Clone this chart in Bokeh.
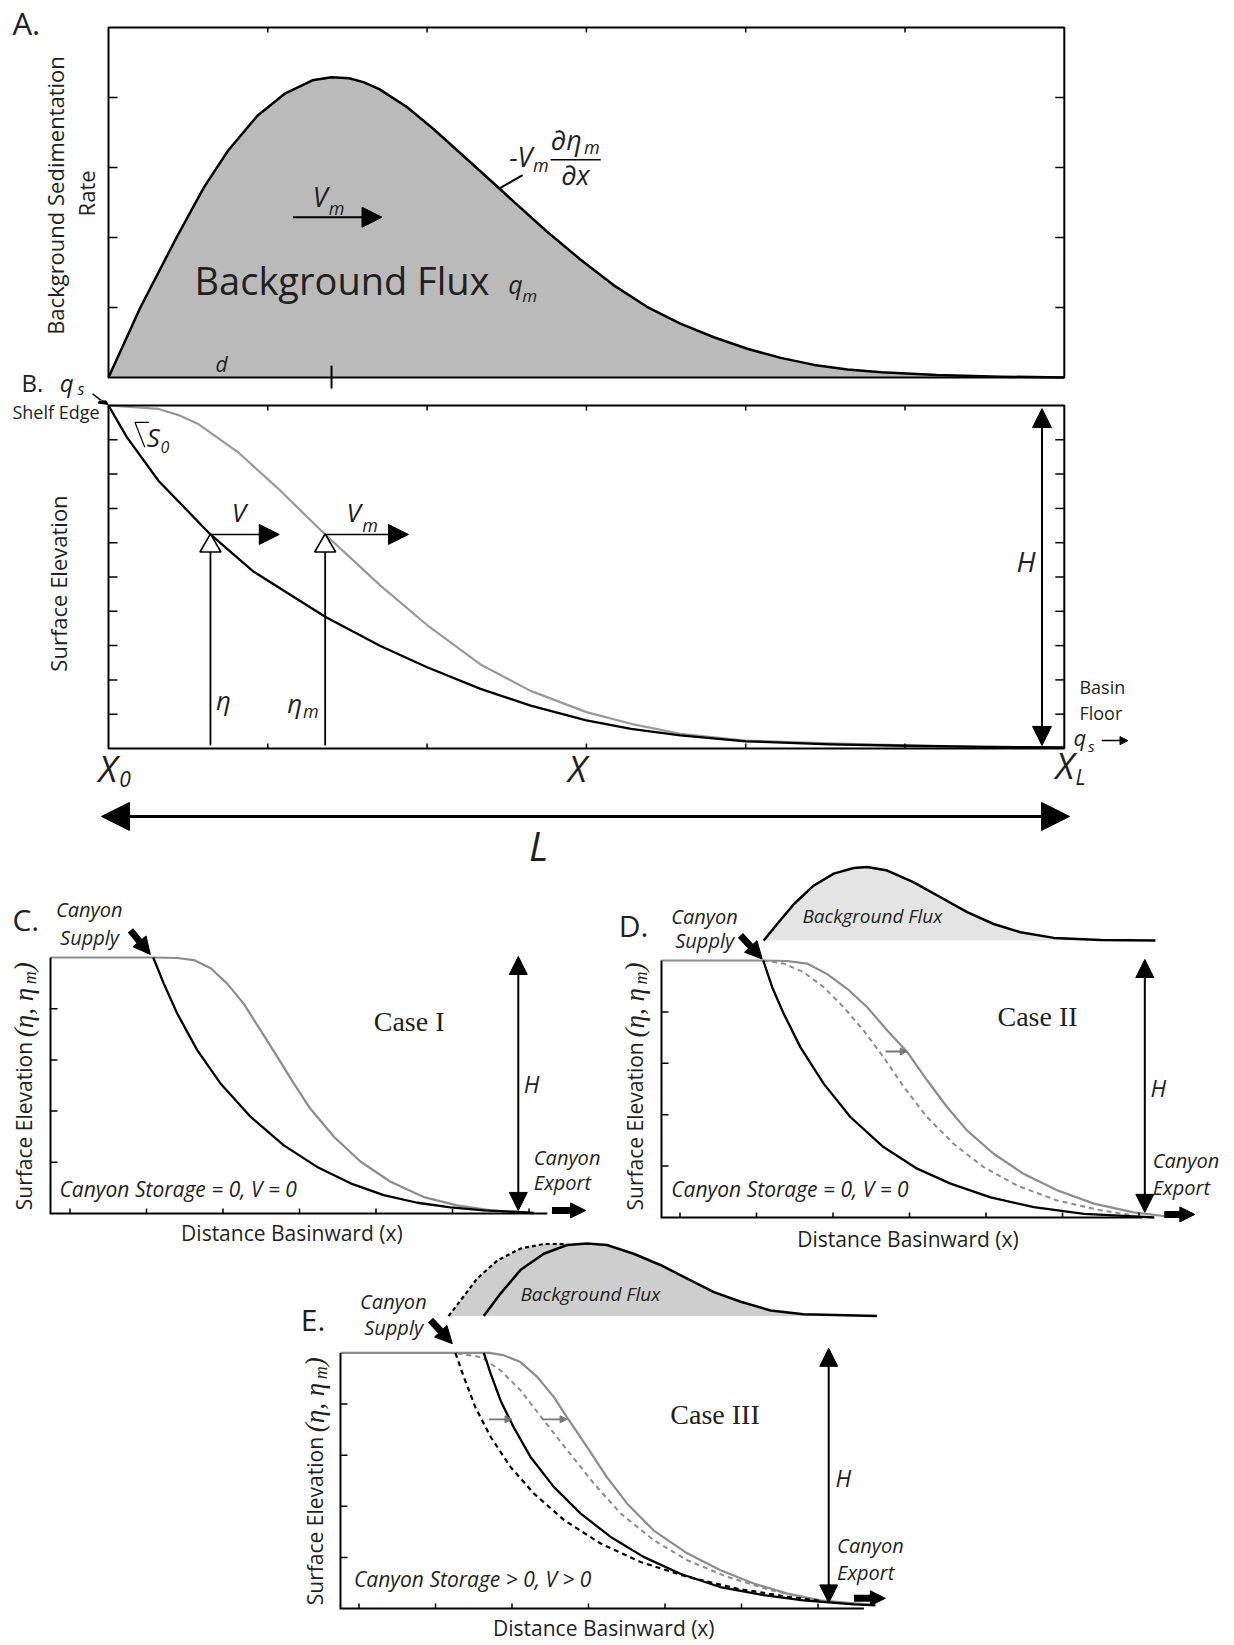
import numpy as np
from bokeh.plotting import figure
from bokeh.models import Range1d, Label, Arrow, NormalHead, Spacer
from bokeh.layouts import column, row
from bokeh.embed import file_html
from bokeh.resources import INLINE

# ---------------- data ----------------
# Panel A: background sedimentation rate
a_x = [0, 0.20, 0.427, 0.60, 0.75, 0.935, 1.11, 1.28, 1.40, 1.51, 1.60, 1.70, 1.875, 2.04, 2.23,
       2.40, 2.54, 2.75, 2.96, 3.17, 3.38, 3.59, 3.80, 4.01, 4.22, 4.43, 4.64, 4.85, 5.2, 5.6, 6.0]
a_rate = [0, 1.0, 2.0, 2.72, 3.24, 3.74, 4.06, 4.245, 4.29, 4.275, 4.22, 4.12, 3.86, 3.55, 3.16,
          2.81, 2.52, 2.09, 1.69, 1.32, 1.01, 0.77, 0.575, 0.41, 0.28, 0.18, 0.115, 0.075, 0.035,
          0.012, 0.0]
a_d = 1.40
a_xticks = [1, 2, 3, 4, 5]
a_yticks = [1, 2, 3, 4]

# Panel B: surface elevation profiles
b_x_eta = [0, 0.115, 0.315, 0.64, 0.91, 1.36, 1.707, 2.0, 2.335, 2.65, 3.0, 3.28, 3.59, 4.0,
           4.53, 5.0, 5.5, 6.0]
b_eta = [10, 9.08, 7.8, 6.24, 5.16, 3.84, 2.99, 2.37, 1.74, 1.25, 0.82, 0.57, 0.38, 0.21,
         0.12, 0.08, 0.05, 0.03]
b_x_etam = [0, 0.315, 0.44, 0.56, 0.81, 1.06, 1.36, 1.54, 1.707, 2.0, 2.335, 2.65, 3.0, 3.28,
            3.59, 4.0, 4.53, 5.0, 5.5, 6.0]
b_etam = [10, 9.9, 9.72, 9.47, 8.65, 7.6, 6.24, 5.47, 4.75, 3.6, 2.45, 1.68, 1.06, 0.72,
          0.43, 0.23, 0.15, 0.09, 0.05, 0.03]
b_probe_x = [0.64, 1.36]
b_probe_y = [6.24, 6.24]
b_xticks = [1, 2, 3, 4, 5]
b_yticks = [1, 2, 3, 4, 5, 6, 7, 8, 9]

# Panel C: Case I
c_x_etam = [0.745, 2.088, 2.40, 2.62, 2.84, 3.055, 3.27, 3.49, 3.71, 3.925, 4.14, 4.45, 4.80,
            5.19, 5.625, 6.06, 6.50, 6.85, 7.06]
c_etam = [5, 5, 4.99, 4.95, 4.79, 4.49, 4.10, 3.58, 3.06, 2.54, 2.05, 1.50, 1.01,
          0.62, 0.32, 0.16, 0.06, 0.03, 0.01]
c_x_eta = [2.088, 2.226, 2.40, 2.663, 2.967, 3.36, 3.795, 4.23, 4.667, 5.10, 5.54, 5.974, 6.41,
           6.85, 7.06]
c_eta = [5.0, 4.49, 3.91, 3.19, 2.54, 1.89, 1.33, 0.91, 0.59, 0.36, 0.21, 0.12, 0.06, 0.03, 0.01]

# Panel D: Case II
d_x_etam = [0.758, 2.088, 2.40, 2.66, 2.92, 3.186, 3.447, 3.71, 3.97, 4.23, 4.49, 4.754, 5.10,
            5.49, 5.93, 6.41, 6.93, 7.37]
d_etam = [5, 5, 4.99, 4.94, 4.74, 4.45, 4.09, 3.64, 3.22, 2.67, 2.15, 1.69, 1.24,
          0.85, 0.53, 0.27, 0.10, 0.02]
d_x_etam0 = [2.088, 2.357, 2.618, 2.88, 3.14, 3.40, 3.66, 3.925, 4.23, 4.58, 4.97, 5.41, 5.93,
             6.50, 6.93]
d_etam0 = [5.0, 4.94, 4.77, 4.48, 4.09, 3.64, 3.12, 2.54, 1.95, 1.43, 0.98, 0.62, 0.33, 0.14, 0.04]
d_x_eta = [2.088, 2.205, 2.357, 2.575, 2.88, 3.23, 3.66, 4.10, 4.536, 5.06, 5.625, 6.28, 6.93, 7.2]
d_eta = [5.0, 4.48, 3.96, 3.31, 2.60, 1.95, 1.37, 0.95, 0.66, 0.39, 0.20, 0.07, 0.02, 0.0]
d_flux_x = [2.095, 2.27, 2.49, 2.75, 3.01, 3.27, 3.447, 3.71, 4.056, 4.405, 4.754, 5.10, 5.45,
            5.886, 6.50, 7.215]
d_flux = [5.39, 5.71, 6.10, 6.46, 6.69, 6.80, 6.82, 6.75, 6.52, 6.23, 5.94, 5.71, 5.55,
          5.44, 5.40, 5.39]
d_flux_base = 5.39

# Panel E: Case III
e_x_etam = [0.758, 2.70, 2.89, 3.11, 3.33, 3.546, 3.72, 3.98, 4.24, 4.506, 4.85, 5.29, 5.725,
            6.16, 6.60, 7.03, 7.47, 7.75]
e_etam = [5, 5, 4.955, 4.82, 4.53, 4.14, 3.74, 3.16, 2.57, 2.05, 1.53, 1.08, 0.75,
          0.49, 0.29, 0.16, 0.10, 0.07]
e_x_etam0 = [0.758, 2.24, 2.59, 2.85, 3.11, 3.416, 3.72, 4.07, 4.42, 4.85, 5.29, 5.81, 6.38, 6.99]
e_etam0 = [5, 5, 4.92, 4.66, 4.27, 3.68, 3.10, 2.445, 1.86, 1.34, 0.945, 0.62, 0.36, 0.16]
e_x_eta = [2.631, 2.72, 2.85, 3.02, 3.24, 3.546, 3.895, 4.29, 4.72, 5.20, 5.72, 6.29, 6.81, 7.47, 7.75]
e_eta = [5.0, 4.60, 4.07, 3.55, 2.97, 2.38, 1.86, 1.40, 1.01, 0.68, 0.42, 0.26, 0.16, 0.08, 0.06]
e_x_eta0 = [2.26, 2.37, 2.52, 2.72, 2.98, 3.285, 3.68, 4.16, 4.68, 5.29, 5.94, 6.60, 7.03]
e_eta0 = [5.0, 4.53, 3.94, 3.36, 2.77, 2.25, 1.73, 1.27, 0.91, 0.62, 0.39, 0.23, 0.15]
e_flux_x = [2.631, 2.85, 3.11, 3.416, 3.72, 3.98, 4.24, 4.59, 4.94, 5.29, 5.64, 5.99, 6.38, 6.81, 7.77]
e_flux = [5.72, 6.16, 6.62, 6.94, 7.11, 7.14, 7.11, 6.94, 6.72, 6.455, 6.19, 6.00, 5.83, 5.755, 5.72]
e_flux0_x = [2.17, 2.33, 2.545, 2.81, 3.11, 3.416, 3.72]
e_flux0 = [5.72, 6.03, 6.455, 6.81, 7.04, 7.13, 7.13]
e_flux_base = 5.72

cde_xticks = [1, 2, 3, 4, 5, 6, 7]
cde_yticks = [1, 2, 3, 4]

# ---------------- styling helpers ----------------
SANS = "Open Sans"
SERIF = "Liberation Serif"
INK = "#231f20"
GREY = "#8c8c8c"
HALF_PI = np.pi / 2
PPY = {}   # pixels per y-unit for each figure (to place text baselines)


def make_fig(w, h, xr, yr):
    p = figure(width=w, height=h, x_range=Range1d(*xr), y_range=Range1d(*yr),
               output_backend="svg", toolbar_location=None,
               x_axis_location=None, y_axis_location=None, min_border=0)
    p.outline_line_color = None
    p.background_fill_color = None
    p.border_fill_color = None
    p.grid.grid_line_color = None
    PPY[id(p)] = h / (yr[1] - yr[0])
    return p


def curve(p, x, y, color="black", width=2.3, dash="solid"):
    p.line(x, y, line_color=color, line_width=width, line_dash=dash, line_join="round")


def ticks_x(p, ticks, y, length):
    n = len(ticks)
    p.segment(x0=ticks, y0=[y] * n, x1=ticks, y1=[y + length] * n,
              line_color="black", line_width=1.5)


def ticks_y(p, ticks, x, length):
    n = len(ticks)
    p.segment(x0=[x] * n, y0=ticks, x1=[x + length] * n, y1=ticks,
              line_color="black", line_width=1.5)


def txt(p, x, y, s, size, style="normal", font=SANS, align="left",
        baseline="alphabetic", angle=0, color=INK):
    if baseline == "alphabetic":
        # lift so that the glyph baseline sits at y
        k = 0.40 if font == SANS else 0.37
        y = y + k * size / PPY[id(p)]
    p.add_layout(Label(x=x, y=y, text=s, text_font=font, text_font_size=f"{size}px",
                       text_font_style=style, text_align=align, text_baseline=baseline,
                       angle=angle, text_color=color))


def arrow(p, x0, y0, x1, y1, lw=2, head=20, end=True, start=False, color="black"):
    def hd():
        return NormalHead(size=head, fill_color=color, line_color=color, line_width=1)
    p.add_layout(Arrow(x_start=x0, y_start=y0, x_end=x1, y_end=y1, line_width=lw,
                       line_color=color, end=hd() if end else None,
                       start=hd() if start else None))


def ylabel_eta(p, xc, y0, ppu, xppu):
    # "Surface Elevation (η, η_m)" rotated, composed of pieces
    txt(p, xc, y0, "Surface Elevation", 21, align="left", baseline="middle", angle=HALF_PI)
    txt(p, xc, y0 + 173 / ppu, "(η, η", 27, style="italic", font=SERIF,
        align="left", baseline="middle", angle=HALF_PI)
    txt(p, xc + 6 / xppu, y0 + 226 / ppu, "m", 18, style="italic", font=SERIF,
        align="left", baseline="middle", angle=HALF_PI)
    txt(p, xc, y0 + 239 / ppu, ")", 27, style="italic", font=SERIF,
        align="left", baseline="middle", angle=HALF_PI)


def profile_axes(p, x0, x_end, ppx, ppy):
    p.line([x0, x0, x_end], [5, 0, 0], line_color="black", line_width=2, line_join="miter")
    ticks_x(p, cde_xticks, 0, 5 / ppy)
    ticks_y(p, cde_yticks, x0, 7 / ppx)


# ---------------- Panel A ----------------
AX, AY = 159.3, 70.0
fa = make_fig(1230, 400, (-0.67797, 7.04331), (-0.32857, 5.38571))
fa.varea(x=a_x, y1=0, y2=a_rate, fill_color="#bababa")
curve(fa, a_x, a_rate, width=2.5)
fa.quad(left=0, right=6, bottom=0, top=5, fill_color=None, line_color="black", line_width=2)
ticks_x(fa, a_xticks, 5, -5 / AY)
ticks_y(fa, a_yticks, 0, 9 / AX)
ticks_y(fa, a_yticks, 6, -9 / AX)
fa.segment(x0=[a_d], y0=[0.17], x1=[a_d], y1=[-0.157], line_color="black", line_width=2)
txt(fa, 0.71, 0.076, "d", 21, style="italic", align="center")
arrow(fa, 1.158, 2.29, 1.717, 2.29, lw=2, head=20)
txt(fa, 1.282, 2.433, "V", 27, style="italic")
txt(fa, 1.382, 2.314, "m", 18, style="italic")
txt(fa, 0.54, 1.17, "Background Flux", 38)
txt(fa, 2.51, 1.195, "q", 25, style="italic")
txt(fa, 2.597, 1.076, "m", 17, style="italic")
fa.segment(x0=[2.46], y0=[2.71], x1=[2.60], y1=[2.89], line_color="black", line_width=2)
txt(fa, 2.515, 3.0, "-V", 27, style="italic")
txt(fa, 2.665, 2.93, "m", 18, style="italic")
fa.segment(x0=[2.775], y0=[3.11], x1=[3.09], y1=[3.11], line_color="black", line_width=1.5)
txt(fa, 2.775, 3.24, "∂η", 27, style="italic")
txt(fa, 2.985, 3.19, "m", 18, style="italic")
txt(fa, 2.93, 2.74, "∂x", 27, style="italic", align="center")
txt(fa, -0.603, 4.886, "A.", 31)
txt(fa, -0.333, 2.6, "Background Sedimentation", 22, align="center", baseline="middle", angle=HALF_PI)
txt(fa, -0.144, 2.63, "Rate", 22, align="center", baseline="middle", angle=HALF_PI)
txt(fa, -0.546, -0.21, "B.", 24)
txt(fa, -0.306, -0.21, "q", 24, style="italic")
txt(fa, -0.195, -0.257, "s", 16, style="italic")
fa.segment(x0=[-0.10], y0=[-0.235], x1=[-0.003], y1=[-0.40], line_color="black", line_width=1.5)

# ---------------- Panel B ----------------
BX, BY = 159.3, 34.3
fb = make_fig(1230, 476, (-0.67797, 7.04331), (-3.73178, 10.14577))
curve(fb, b_x_etam, b_etam, color="#999999", width=2.2)
curve(fb, b_x_eta, b_eta)
fb.quad(left=0, right=6, bottom=0, top=10, fill_color=None, line_color="black", line_width=2)
ticks_x(fb, b_xticks, 0, 5 / BY)
ticks_x(fb, b_xticks, 10, -5 / BY)
ticks_y(fb, b_yticks, 0, 9 / BX)
ticks_y(fb, b_yticks, 6, -9 / BX)
tri_y = [v - 0.335 for v in b_probe_y]
fb.segment(x0=b_probe_x, y0=[v - 0.5 for v in b_probe_y], x1=b_probe_x, y1=[0.09, 0.09],
           line_color="black", line_width=1.8)
fb.scatter(x=b_probe_x, y=tri_y, marker="triangle", size=21, fill_color="white",
           line_color="black", line_width=1.6)
arrow(fb, b_probe_x[0], b_probe_y[0], 1.072, b_probe_y[0], lw=1.6, head=20)
arrow(fb, b_probe_x[1], b_probe_y[1], 1.883, b_probe_y[1], lw=1.6, head=20)
txt(fb, 0.774, 6.6, "V", 26, style="italic")
txt(fb, 1.494, 6.6, "V", 26, style="italic")
txt(fb, 1.593, 6.306, "m", 18, style="italic")
txt(fb, 0.675, 1.11, "η", 26, style="italic")
txt(fb, 1.122, 1.02, "η", 26, style="italic")
txt(fb, 1.221, 0.875, "m", 18, style="italic")
arrow(fb, -0.10, 10.34, -0.003, 10.03, lw=1.5, head=9)
txt(fb, -0.603, 9.61, "Shelf Edge", 18)
fb.segment(x0=[0.166, 0.166], y0=[9.51, 9.51], x1=[0.253, 0.228], y1=[9.51, 8.78],
           line_color="black", line_width=1.2)
txt(fb, 0.24, 8.78, "S", 26, style="italic")
txt(fb, 0.327, 8.59, "0", 16, style="italic")
arrow(fb, 5.86, 0.09, 5.86, 9.91, lw=2, head=19, start=True)
txt(fb, 5.70, 5.14, "H", 28, style="italic")
txt(fb, 6.095, 1.59, "Basin", 18)
txt(fb, 6.095, 0.82, "Floor", 18)
txt(fb, 6.058, 0.09, "q", 22, style="italic")
txt(fb, 6.148, -0.11, "s", 15, style="italic")
arrow(fb, 6.235, 0.23, 6.40, 0.23, lw=1.5, head=8)
txt(fb, -0.063, -1.0, "X", 36, style="italic")
txt(fb, 0.067, -1.12, "0", 21, style="italic")
txt(fb, 2.884, -1.0, "X", 36, style="italic")
txt(fb, 5.945, -0.92, "X", 36, style="italic")
txt(fb, 6.07, -1.08, "L", 21, style="italic")
arrow(fb, -0.044, -1.98, 6.033, -1.98, lw=3, head=28, start=True)
txt(fb, 2.64, -3.30, "L", 40, style="italic")
txt(fb, -0.32, 4.81, "Surface Elevation", 22, align="center", baseline="middle", angle=HALF_PI)

# ---------------- Panel C ----------------
CX, CY = 76.5, 51.2
fc = make_fig(614, 392, (0.09150, 8.11765), (-0.83984, 6.81641))
curve(fc, c_x_etam, c_etam, color=GREY, width=2.2)
curve(fc, c_x_eta, c_eta)
profile_axes(fc, 0.745, 7.24, CX, CY)
arrow(fc, 1.79, 5.53, 2.05, 5.06, lw=7, head=17)
txt(fc, 0.816, 5.79, "Canyon", 20, style="italic")
txt(fc, 0.87, 5.24, "Supply", 20, style="italic")
txt(fc, 0.248, 5.5, "C.", 30)
txt(fc, 4.97, 3.55, "Case I", 28, font=SERIF)
arrow(fc, 6.86, 0.06, 6.86, 5.02, lw=2, head=18, start=True)
txt(fc, 6.93, 2.34, "H", 23, style="italic")
txt(fc, 7.063, 0.94, "Canyon", 20, style="italic")
txt(fc, 7.063, 0.44, "Export", 20, style="italic")
arrow(fc, 7.30, 0.06, 7.74, 0.06, lw=7, head=15)
txt(fc, 0.863, 0.32, "Canyon Storage = 0, V = 0", 21, style="italic")
txt(fc, 3.90, -0.385, "Distance Basinward (x)", 21, align="center", baseline="middle")
ylabel_eta(fc, 0.401, 0.065, CY, CX)

# ---------------- Panel D ----------------
DX, DY = 76.5, 51.4
fd = make_fig(616, 392, (0.14379, 8.19608), (-0.75875, 6.86770))
fd.varea(x=d_flux_x, y1=d_flux_base, y2=d_flux, fill_color="#e4e4e4")
curve(fd, d_flux_x, d_flux, width=2.5)
curve(fd, d_x_etam, d_etam, color=GREY, width=2.2)
curve(fd, d_x_etam0, d_etam0, color=GREY, width=2, dash="5 4")
curve(fd, d_x_eta, d_eta)
profile_axes(fd, 0.758, 7.05, DX, DY)
arrow(fd, 3.686, 3.23, 3.97, 3.23, lw=1.8, head=7, color="#777777")
arrow(fd, 1.79, 5.49, 2.075, 5.03, lw=7, head=17)
txt(fd, 0.886, 5.71, "Canyon", 20, style="italic")
txt(fd, 0.938, 5.23, "Supply", 20, style="italic")
txt(fd, 0.199, 5.45, "D.", 30)
txt(fd, 2.60, 5.72, "Background Flux", 19, style="italic")
txt(fd, 5.15, 3.70, "Case II", 28, font=SERIF)
arrow(fd, 7.076, 0.10, 7.076, 5.02, lw=2, head=18, start=True)
txt(fd, 7.15, 2.34, "H", 23, style="italic")
txt(fd, 7.18, 0.95, "Canyon", 20, style="italic")
txt(fd, 7.18, 0.43, "Export", 20, style="italic")
arrow(fd, 7.33, 0.06, 7.73, 0.06, lw=7, head=15)
txt(fd, 0.886, 0.395, "Canyon Storage = 0, V = 0", 21, style="italic")
txt(fd, 3.98, -0.41, "Distance Basinward (x)", 21, align="center", baseline="middle")
ylabel_eta(fd, 0.41, 0.136, DY, DX)

# ---------------- Panel E ----------------
EX, EY = 76.5, 51.12
fe = make_fig(630, 410, (0.10458, 8.33987), (-0.66510, 7.35524))
fe.varea(x=e_flux0_x, y1=e_flux_base, y2=e_flux0, fill_color="#cecece")
fe.varea(x=e_flux_x, y1=e_flux_base, y2=e_flux, fill_color="#cecece")
curve(fe, e_flux0_x, e_flux0, width=2.2, dash="4 3")
curve(fe, e_flux_x, e_flux, width=2.5)
curve(fe, e_x_etam, e_etam, color=GREY, width=2.2)
curve(fe, e_x_etam0, e_etam0, color=GREY, width=2, dash="5 4")
curve(fe, e_x_eta0, e_eta0, width=2.2, dash="5 4")
curve(fe, e_x_eta, e_eta)
profile_axes(fe, 0.758, 7.6, EX, EY)
arrow(fe, 2.697, 3.70, 3.0, 3.70, lw=1.8, head=7, color="#777777")
arrow(fe, 3.395, 3.70, 3.72, 3.70, lw=1.8, head=7, color="#777777")
arrow(fe, 1.935, 5.64, 2.22, 5.18, lw=7, head=17)
txt(fe, 1.014, 5.84, "Canyon", 20, style="italic")
txt(fe, 1.068, 5.35, "Supply", 20, style="italic")
txt(fe, 0.24, 5.41, "E.", 30)
txt(fe, 3.11, 6.01, "Background Flux", 19, style="italic")
txt(fe, 5.07, 3.60, "Case III", 28, font=SERIF)
arrow(fe, 7.14, 0.11, 7.14, 5.09, lw=2, head=18, start=True)
txt(fe, 7.23, 2.38, "H", 23, style="italic")
txt(fe, 7.25, 1.08, "Canyon", 20, style="italic")
txt(fe, 7.25, 0.55, "Export", 20, style="italic")
arrow(fe, 7.47, 0.2, 7.88, 0.2, lw=7, head=15)
txt(fe, 0.935, 0.42, "Canyon Storage > 0, V > 0", 21, style="italic")
txt(fe, 4.20, -0.372, "Distance Basinward (x)", 21, align="center", baseline="middle")
ylabel_eta(fe, 0.427, 0.065, EY, EX)

row_cd = row(fc, fd)
row_cd.margin = (-12, 0, 0, 0)
row_e = row(Spacer(width=290, height=410), fe)
row_e.margin = (-24, 0, 0, 0)
layout = column(fa, fb, row_cd, row_e)

open("out.html", "w").write(file_html(layout, INLINE))
